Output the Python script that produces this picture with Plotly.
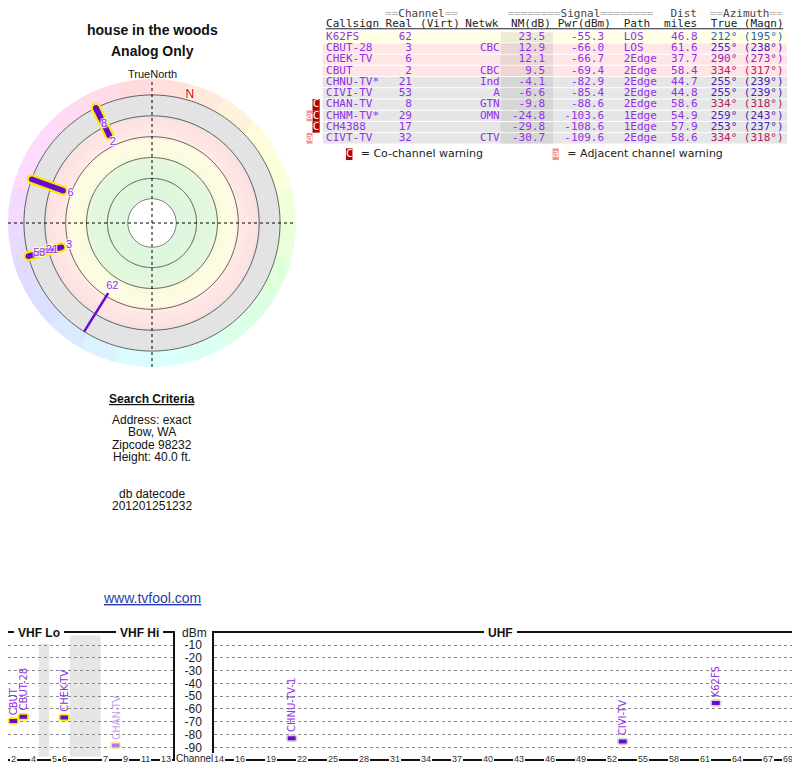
import colorsys
import numpy as np
import plotly.graph_objects as go

# the page puts the figure 8px in from the top-left corner, so the figure is
# 16px smaller than the window and every position below is a window pixel
OFF = 8
W, H = 800 - 2 * OFF, 768 - OFF

# ---- stations
callsign = ["K62FS", "CBUT-28", "CHEK-TV", "CBUT", "CHNU-TV*", "CIVI-TV",
            "CHAN-TV", "CHNM-TV*", "CH4388", "CIVT-TV"]
spec_name = ["K62FS", "CBUT-28", "CHEK-TV", "CBUT", "CHNU-TV-1", "CIVI-TV",
             "CHAN-TV", "CHNM-TV-1", "CH4388", "CIVT-TV"]
real_ch = [62, 3, 6, 2, 21, 53, 8, 29, 17, 32]
network = ["", "CBC", "", "CBC", "Ind", "A", "GTN", "OMN", "", "CTV"]
nm_db = [23.5, 12.9, 12.1, 9.5, -4.1, -6.6, -9.8, -24.8, -29.8, -30.7]
pwr_dbm = [-55.3, -66.0, -66.7, -69.4, -82.9, -85.4, -88.6, -103.6, -108.6, -109.6]
path = ["LOS", "LOS", "2Edge", "2Edge", "2Edge", "2Edge", "2Edge", "1Edge", "1Edge", "2Edge"]
dist_mi = [46.8, 61.6, 37.7, 58.4, 44.7, 44.8, 58.6, 54.9, 57.9, 58.6]
az_true = [212, 255, 290, 334, 255, 255, 334, 259, 253, 334]
az_magn = [195, 238, 273, 317, 239, 239, 318, 243, 237, 318]
warning = ["", "", "", "", "", "", "C", "aC", "C", "a"]

mag_decl = 16.5  # true - magnetic
vhf_ticks = [2, 4, 5, 6, 7, 9, 11, 13]
uhf_ticks = [14, 16, 19, 22, 25, 28, 31, 34, 37, 40, 43, 46, 49, 52, 55, 58, 61, 64, 67, 69]
dbm_ticks = [-10, -20, -30, -40, -50, -60, -70, -80, -90]

site_title = "house in the woods"
site_sub = "Analog Only"
criteria = ["Address: exact", "Bow, WA", "Zipcode 98232", "Height: 40.0 ft."]
datecode = "201201251232"

n = len(callsign)

PURPLE = "#9130e8"
MARK = "#6a0acf"
YELLOW = "#f6ec00"
MONO = "DejaVu Sans Mono"
SANS = "Liberation Sans"
HALO = "1px 1px 1px #fff, -1px -1px 1px #fff, 1px -1px 1px #fff, -1px 1px 1px #fff"


def xp(x):
    return min(max((x - OFF) / W, 0), 1)


def yp(y):
    return min(max(1 - (y - OFF) / H, 0), 1)


def hls(h, l, s):
    r, g, b = colorsys.hls_to_rgb((h % 360) / 360, l, s)
    return "rgb(%d,%d,%d)" % (round(r * 255), round(g * 255), round(b * 255))


def nm_band(v):
    if v >= 40:
        return "green"
    if v >= 20:
        return "yellow"
    if v >= 0:
        return "pink"
    return "gray"


ROW_FILL = {"green": "#e6ffe6", "yellow": "#ffffe6", "pink": "#ffe6e6", "gray": "#e6e6e6"}
NM_FILL = {"green": "#d4ebd4", "yellow": "#ebebd6", "pink": "#ebd6d6", "gray": "#d6d6d6"}

fig = go.Figure()
annotations = []

# ================= polar signal plot =================
PCX, PCY, PR = 152, 223, 144
R_MIN, R_EDGE, R_MAX = -80, 20, 35.3
POLAR_X = [xp(PCX - PR), xp(PCX + PR)]
POLAR_Y = [yp(PCY + PR), yp(PCY - PR)]

# soft background bands
ring_stops = [(-80, (221, 246, 221)), (-43, (226, 248, 220)), (-37, (250, 251, 222)),
              (-23, (255, 252, 226)), (-17, (255, 231, 229)), (-3, (254, 225, 225)),
              (1, (227, 227, 227)), (20, (227, 227, 227))]
sq = [s[0] for s in ring_stops]
band_base = np.arange(R_MIN, R_EDGE, 1.0)
band_col = []
for q in band_base + 0.5:
    rgb = [np.interp(q, sq, [s[1][k] for s in ring_stops]) for k in range(3)]
    band_col.append("rgb(%d,%d,%d)" % tuple(round(v) for v in rgb))
fig.add_trace(go.Barpolar(
    theta=[90] * len(band_base) + [270] * len(band_base),
    base=list(band_base) * 2, r=[1] * (2 * len(band_base)), width=180,
    marker=dict(color=band_col * 2, line=dict(color=band_col * 2, width=0.6)),
    hoverinfo="skip", subplot="polar"))

# pastel compass ring
sect = np.arange(7.5, 360, 15)
sect_col = [hls(a, 0.93, 1.0) for a in sect]
fig.add_trace(go.Barpolar(
    theta=sect, base=R_EDGE, r=[R_MAX - R_EDGE + 1] * len(sect), width=15,
    marker=dict(color=sect_col, line=dict(color=sect_col, width=0.6)),
    hoverinfo="skip", subplot="polar"))

# range circles
circ = np.linspace(0, 360, 241)
gt, gr = [], []
for q in [R_MIN + 0.4, -60, -40, -20, 0, R_EDGE]:
    gt += list(circ) + [None]
    gr += [q] * len(circ) + [None]
fig.add_trace(go.Scatterpolar(theta=gt, r=gr, mode="lines",
                              line=dict(color="#3c3c3c", width=0.8),
                              hoverinfo="skip", subplot="polar"))

on_dial = [i for i in range(n) if nm_db[i] >= -R_EDGE]
dial_vhf = [i for i in on_dial if real_ch[i] <= 13]
dial_uhf = [i for i in on_dial if real_ch[i] > 13]


def radial_segments(idx):
    th, rr = [], []
    for i in idx:
        th += [az_true[i], az_true[i], None]
        rr += [-nm_db[i], R_EDGE, None]
    return th, rr


th, rr = radial_segments(dial_uhf)
fig.add_trace(go.Scatterpolar(theta=th, r=rr, mode="lines",
                              line=dict(color=MARK, width=2.5),
                              hoverinfo="skip", subplot="polar"))
th, rr = radial_segments(dial_vhf)
fig.add_trace(go.Scatterpolar(theta=th, r=rr, mode="lines+markers",
                              line=dict(color=YELLOW, width=10),
                              marker=dict(color=YELLOW, size=10),
                              hoverinfo="skip", subplot="polar"))
fig.add_trace(go.Scatterpolar(theta=th, r=rr, mode="lines+markers",
                              line=dict(color=MARK, width=5.5),
                              marker=dict(color=MARK, size=5.5),
                              hoverinfo="skip", subplot="polar"))

# channel labels just inside each marker, pushed apart on shared bearings
lab_r, lab_t, lab_s = [], [], []
last = {}
for i in sorted(on_dial, key=lambda k: -nm_db[k]):
    r = -nm_db[i] - 7.5
    prev = last.get(az_true[i])
    if prev is not None and r - prev < 10:
        r = prev + 12.5
    last[az_true[i]] = r
    lab_r.append(r)
    lab_t.append(az_true[i])
    lab_s.append(str(real_ch[i]))
fig.add_trace(go.Scatterpolar(theta=lab_t, r=lab_r, mode="text", text=lab_s,
                              textfont=dict(family=SANS, size=11, color=PURPLE, shadow=HALO),
                              hoverinfo="skip", subplot="polar"))
fig.add_trace(go.Scatterpolar(theta=[mag_decl], r=[25], mode="text", text=["N"],
                              textfont=dict(family=SANS, size=12, color="#e00000", shadow=HALO),
                              hoverinfo="skip", subplot="polar"))

# ================= station table =================
ROW0, ROW_H = 37.3, 11.22
TBL_X0, TBL_X1 = 323, 795
NM_X0, NM_X1 = 504, 557
rows = list(range(n))
band = [nm_band(v) for v in nm_db]

fig.add_trace(go.Bar(orientation="h", y=rows, x=[TBL_X1 - TBL_X0] * n, base=TBL_X0,
                     width=0.91, marker=dict(color=[ROW_FILL[b] for b in band], line_width=0),
                     xaxis="x2", yaxis="y2", hoverinfo="skip"))
fig.add_trace(go.Bar(orientation="h", y=rows, x=[NM_X1 - NM_X0] * n, base=NM_X0,
                     width=0.91, marker=dict(color=[NM_FILL[b] for b in band], line_width=0),
                     xaxis="x2", yaxis="y2", hoverinfo="skip"))


def col_text(vals, x, align, color, y=None, family=MONO, size=11):
    yy = rows if y is None else y
    xs = x if isinstance(x, list) else [x] * len(vals)
    fig.add_trace(go.Scatter(
        x=xs, y=yy, mode="text", text=vals,
        textposition="middle right" if align == "left" else "middle left",
        textfont=dict(family=family, size=size, color=color),
        xaxis="x2", yaxis="y2", hoverinfo="skip", cliponaxis=False))


az_col = [hls(a, 0.42, 0.68) for a in az_true]
col_text(callsign, 326.5, "left", PURPLE)
col_text([str(c) for c in real_ch], 413.8, "right", PURPLE)
col_text(network, 503, "right", PURPLE)
col_text(["%.1f" % v for v in nm_db], 549, "right", PURPLE)
col_text(["%.1f" % v for v in pwr_dbm], 609, "right", PURPLE)
col_text(path, 629, "left", PURPLE)
col_text(["%.1f" % v for v in dist_mi], 704, "right", PURPLE)
col_text(["%d°" % a for a in az_true], 717.5, "left", az_col)
col_text(["(%d°)" % a for a in az_magn], 751, "left", az_col)

# header lines
eq = lambda k: "<span style='color:#b8b8b8'>" + "=" * k + "</span>"
head1 = [eq(2) + "Channel" + eq(2), eq(8) + "Signal" + eq(8), "Dist", eq(2) + "Azimuth" + eq(2)]
col_text(head1, [386.5, 511, 676.5, 716.5], "left", "#444444", y=[-2.05] * 4)
head2 = ["Callsign", "Real", "(Virt)", "Netwk", "NM(dB)", "Pwr(dBm)", "Path", "miles", "True", "(Magn)"]
col_text(head2, [326.5, 387, 422, 468, 514.5, 562, 629, 670, 717.5, 751], "left", "#222222",
         y=[-1.12] * len(head2))
fig.add_trace(go.Scatter(x=[326.5, 791], y=[-0.76, -0.76], mode="lines",
                         line=dict(color="#222222", width=1), xaxis="x2", yaxis="y2",
                         hoverinfo="skip"))

# warning badges
CO_RED, ADJ_PINK = "#b40000", "#f39191"
co_rows = [i for i in rows if "C" in warning[i]]
adj_rows = [i for i in rows if "a" in warning[i]]
LEG_Y = 10.42
fig.add_trace(go.Bar(orientation="h", y=co_rows + [LEG_Y], x=[7.3] * len(co_rows) + [6.6],
                     base=[312.7] * len(co_rows) + [346.7], width=[1.0] * len(co_rows) + [1.04],
                     marker=dict(color=CO_RED, line_width=0), xaxis="x2", yaxis="y2",
                     hoverinfo="skip"))
fig.add_trace(go.Bar(orientation="h", y=adj_rows + [LEG_Y], x=[6.0] * len(adj_rows) + [6.3],
                     base=[306.7] * len(adj_rows) + [556.7], width=[0.95] * len(adj_rows) + [1.04],
                     marker=dict(color=ADJ_PINK, line_width=0), xaxis="x2", yaxis="y2",
                     hoverinfo="skip"))
fig.add_trace(go.Scatter(x=[316.4] * len(co_rows) + [350], y=co_rows + [LEG_Y], mode="text",
                         text=["C"] * (len(co_rows) + 1),
                         textfont=dict(family=MONO, size=11, color="white"),
                         xaxis="x2", yaxis="y2", hoverinfo="skip"))
fig.add_trace(go.Scatter(x=[309.7] * len(adj_rows) + [559.9], y=adj_rows + [LEG_Y], mode="text",
                         text=["a"] * (len(adj_rows) + 1),
                         textfont=dict(family=MONO, size=11, color="white"),
                         xaxis="x2", yaxis="y2", hoverinfo="skip"))
col_text(["= Co-channel warning", "= Adjacent channel warning"], [361.7, 571.7], "left",
         "#222222", y=[LEG_Y, LEG_Y], family="DejaVu Sans", size=11)

# ================= channel spectrum =================
VHF_GAP_LO, VHF_GAP_HI = 1.09, 3.15
VHF_PX0, VHF_PX_CH = 13.3, 10.0        # window x of channel 2 centre, px per channel slot
UHF_PX16, UHF_PX_CH = 240.0, 10.35     # window x of channel 16 centre, px per channel
DBM_RANGE = [-99.1, -0.6]
SPEC_TOP, SPEC_BOT = 633, 759
VHF_BOX = [6.7, 173.3]
UHF_BOX = [214, 792.3]


def vhf_pos(ch):
    # broken VHF axis: ch2-4 | gap | ch5-6 | FM gap | ch7-13
    pos = ch - 2
    if ch >= 5:
        pos += VHF_GAP_LO
    if ch >= 7:
        pos += VHF_GAP_HI
    return pos


def hseg(xs, ys, half):
    X, Y = [], []
    for x, y in zip(xs, ys):
        X += [x - half, x + half, None]
        Y += [y, y, None]
    return X, Y


visible = [i for i in range(n) if pwr_dbm[i] > DBM_RANGE[0]]
groups = [
    ("x3", "y3", [i for i in visible if real_ch[i] <= 13 and "C" not in warning[i]], YELLOW, MARK, PURPLE),
    ("x3", "y3", [i for i in visible if real_ch[i] <= 13 and "C" in warning[i]], "#f7f0a6", "#b57ae8", "#c8a2ee"),
    ("x4", "y4", [i for i in visible if real_ch[i] > 13 and "C" not in warning[i]], "#d4d4d4", MARK, PURPLE),
    ("x4", "y4", [i for i in visible if real_ch[i] > 13 and "C" in warning[i]], "#e6e6e6", "#b57ae8", "#c8a2ee"),
]
for xa, ya, idx, halo, fill, txt in groups:
    if not idx:
        continue
    xs = [vhf_pos(real_ch[i]) if xa == "x3" else real_ch[i] for i in idx]
    ys = [pwr_dbm[i] for i in idx]
    X, Y = hseg(xs, ys, 0.2)
    fig.add_trace(go.Scatter(x=X, y=Y, mode="lines+markers", line=dict(color=halo, width=7.5),
                             marker=dict(color=halo, size=7.5), xaxis=xa, yaxis=ya,
                             hoverinfo="skip"))
    X, Y = hseg(xs, ys, 0.38)
    fig.add_trace(go.Scatter(x=X, y=Y, mode="lines", line=dict(color=fill, width=4),
                             xaxis=xa, yaxis=ya, hoverinfo="skip"))
    for x, y, i in zip(xs, ys, idx):
        annotations.append(dict(x=x, y=y, xref=xa, yref=ya, text=spec_name[i], textangle=-90,
                                showarrow=False, xanchor="center", yanchor="bottom", yshift=4,
                                font=dict(family="DejaVu Sans", size=10, color=txt)))

# VHF gap bands
for a, b in [(vhf_pos(4) + 0.55, vhf_pos(5) - 0.5), (vhf_pos(6) + 0.56, vhf_pos(7) - 0.5)]:
    fig.add_shape(type="rect", xref="x3", yref="y3 domain", x0=a, x1=b, y0=0.02, y1=0.98,
                  fillcolor="#e6e6e6", line_width=0, layer="below")

# tick labels sitting on the bottom frame line
for ch in vhf_ticks:
    annotations.append(dict(x=vhf_pos(ch), y=yp(SPEC_BOT), xref="x3", yref="paper", text=str(ch),
                            showarrow=False, bgcolor="white", borderpad=1, borderwidth=0,
                            xanchor="center", yanchor="middle",
                            font=dict(family=SANS, size=9, color="#333333")))
for ch in uhf_ticks:
    annotations.append(dict(x=ch, y=yp(SPEC_BOT), xref="x4", yref="paper", text=str(ch),
                            showarrow=False, bgcolor="white", borderpad=1, borderwidth=0,
                            xanchor="center", yanchor="middle",
                            font=dict(family=SANS, size=9, color="#333333")))

# band titles breaking the top frame line
for text, x, xa in [("VHF Lo", (vhf_pos(2) + vhf_pos(6)) / 2, "x3"),
                    ("VHF Hi", (vhf_pos(7) + vhf_pos(13)) / 2 + 0.4, "x3"),
                    ("UHF", (uhf_ticks[0] + uhf_ticks[-1]) / 2 - 0.3, "x4")]:
    annotations.append(dict(x=x, y=yp(SPEC_TOP), xref=xa, yref="paper", text="<b>%s</b>" % text,
                            showarrow=False, bgcolor="white", borderpad=4, borderwidth=0,
                            xanchor="center", yanchor="middle",
                            font=dict(family=SANS, size=12, color="#111111")))


def label(text, x, y, size=12, bold=False, color="#111111", **kw):
    annotations.append(dict(x=xp(x), y=yp(y), xref="paper", yref="paper",
                            text="<b>%s</b>" % text if bold else text, showarrow=False,
                            xanchor="center", yanchor="middle",
                            font=dict(family=SANS, size=size, color=color), **kw))


label("dBm", 194, 632.5, color="#222222")
label("Channel", 194, 758.5, size=10, color="#222222", bgcolor="white", borderpad=0, borderwidth=0)

# ================= left-hand captions =================
label(site_title, 152, 29.5, size=14, bold=True)
label(site_sub, 152, 51.5, size=14, bold=True)
label("TrueNorth", 152, 74, size=11)
label("<u>Search Criteria</u>", 152, 398.5, bold=True)
for k, line in enumerate(criteria):
    label(line, 152, 420 + 12.4 * k)
label("db datecode", 152, 494)
label(datecode, 152, 506)
label("<u>www.tvfool.com</u>", 152, 597.5, size=14, color="#2a3cb0")

# polar crosshair (dotted), through the centre hole as well
cx, cy = sum(POLAR_X) / 2, sum(POLAR_Y) / 2
fig.add_shape(type="line", xref="paper", yref="paper", x0=cx, x1=cx, y0=POLAR_Y[0], y1=POLAR_Y[1],
              line=dict(color="black", width=1, dash="dot"))
fig.add_shape(type="line", xref="paper", yref="paper", x0=POLAR_X[0], x1=POLAR_X[1], y0=cy, y1=cy,
              line=dict(color="black", width=1, dash="dot"))

vhf_left = max(VHF_BOX[0], OFF)
frame = dict(showline=True, mirror=True, linecolor="#111111", linewidth=1.5, zeroline=False,
             ticks="")
fig.update_layout(
    template="none", width=W, height=H, margin=dict(l=0, r=0, t=0, b=0),
    paper_bgcolor="white", plot_bgcolor="white", showlegend=False, hovermode=False,
    barmode="overlay", annotations=annotations,
    polar=dict(domain=dict(x=POLAR_X, y=POLAR_Y), hole=23.7 / PR, bgcolor="white",
               radialaxis=dict(range=[R_MIN, R_MAX], showline=False, showgrid=False,
                               showticklabels=False, ticks=""),
               angularaxis=dict(rotation=90, direction="clockwise", showline=False,
                                showgrid=False, showticklabels=False, ticks="")),
    xaxis2=dict(domain=[xp(300), xp(800)], range=[300, 800], visible=False, anchor="y2"),
    yaxis2=dict(domain=[yp(165), yp(OFF)], range=[(165 - ROW0) / ROW_H, (OFF - ROW0) / ROW_H],
                visible=False, anchor="x2"),
    xaxis3=dict(domain=[xp(vhf_left), xp(VHF_BOX[1])],
                range=[(vhf_left - VHF_PX0) / VHF_PX_CH, (VHF_BOX[1] - VHF_PX0) / VHF_PX_CH],
                anchor="y3", showgrid=False, showticklabels=False, **frame),
    yaxis3=dict(domain=[yp(SPEC_BOT), yp(SPEC_TOP)], range=DBM_RANGE, anchor="x3", showgrid=True,
                gridcolor="#8a8a8a", griddash="dot", gridwidth=1, tickvals=dbm_ticks,
                showticklabels=False, **frame),
    xaxis4=dict(domain=[xp(UHF_BOX[0]), xp(UHF_BOX[1])],
                range=[16 + (UHF_BOX[0] - UHF_PX16) / UHF_PX_CH, 16 + (UHF_BOX[1] - UHF_PX16) / UHF_PX_CH],
                anchor="y4", showgrid=False, showticklabels=False, **frame),
    yaxis4=dict(domain=[yp(SPEC_BOT), yp(SPEC_TOP)], range=DBM_RANGE, anchor="x4", showgrid=True,
                gridcolor="#8a8a8a", griddash="dot", gridwidth=1, tickvals=dbm_ticks,
                ticktext=[str(v) for v in dbm_ticks], ticklabelstandoff=8,
                tickfont=dict(family=SANS, size=12, color="#222222"), **frame),
)

fig.write_html("out.html")
